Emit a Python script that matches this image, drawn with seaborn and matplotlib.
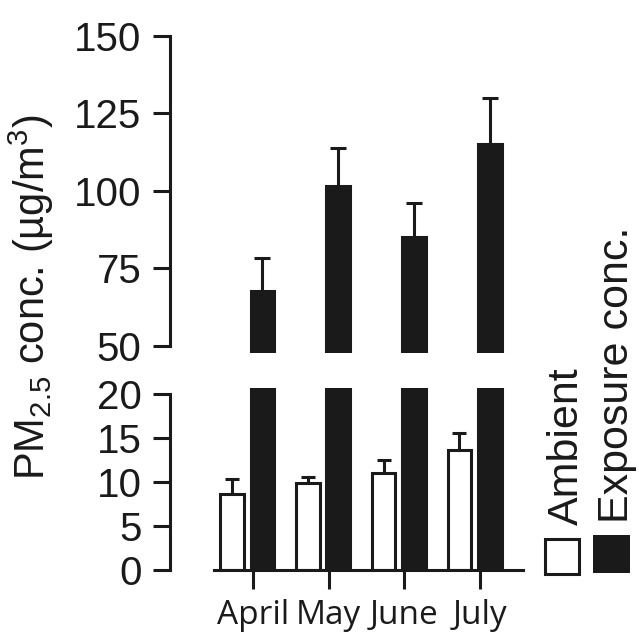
import numpy as np
import pandas as pd
import seaborn as sns
import matplotlib.pyplot as plt
from matplotlib.patches import Rectangle

# values
months = ["April", "May", "June", "July"]
ambient = [8.6, 9.9, 11.0, 13.7]
ambient_err = [1.7, 0.7, 1.5, 1.9]
exposure = [67.7, 101.7, 85.2, 115.3]
exposure_err = [10.5, 12.3, 11.0, 14.6]
series = ["Ambient", "Exposure conc."]

top_ticks = [50, 75, 100, 125, 150]
bottom_ticks = [0, 5, 10, 15, 20]

sns.set_style("ticks")
plt.rcParams["font.family"] = ["Liberation Sans", "DejaVu Sans"]
plt.rcParams["mathtext.fontset"] = "custom"
plt.rcParams["mathtext.rm"] = "Liberation Sans"
plt.rcParams["mathtext.it"] = "Liberation Sans:italic"

ink = "#1a1a1a"
lw = 2.2

df = pd.DataFrame({
    "month": months * 2,
    "series": [series[0]] * 4 + [series[1]] * 4,
    "value": ambient + exposure,
})
errs = {series[0]: ambient_err, series[1]: exposure_err}
vals = {series[0]: ambient, series[1]: exposure}

fig = plt.figure(figsize=(6.39, 6.44), dpi=100)
ax_top = fig.add_axes([0.3349, 0.4519, 0.4836, 0.4922])
ax_bot = fig.add_axes([0.3349, 0.1149, 0.4836, 0.2826])

for ax in (ax_top, ax_bot):
    sns.barplot(data=df, x="month", y="value", hue="series", order=months,
                hue_order=series, palette={series[0]: "white", series[1]: ink},
                edgecolor=ink, linewidth=lw, width=0.8, gap=0.22,
                errorbar=None, legend=False, ax=ax)
    for cont, name in zip(ax.containers, series):
        xs = [b.get_x() + b.get_width() / 2 for b in cont]
        cap = 6 if name == series[1] else 5
        eb = ax.errorbar(xs, vals[name], yerr=[np.zeros(4), errs[name]], fmt="none",
                         ecolor=ink, elinewidth=lw, capsize=cap, capthick=lw, zorder=0.5)
        eb[1][0].set_visible(False)
    ax.set_xlim(-0.44, 3.64)
    ax.set_xlabel("")
    ax.set_ylabel("")
    ax.spines["left"].set_position(("outward", 31.7))
    ax.spines["left"].set_linewidth(lw)
    ax.spines["left"].set_color(ink)
    ax.spines["right"].set_visible(False)
    ax.spines["top"].set_visible(False)
    ax.tick_params(axis="y", length=12.5, width=lw, color=ink, labelsize=29,
                   pad=8, labelcolor=ink)

# top panel
ax_top.set_ylim(47.7, 150)
ax_top.set_yticks(top_ticks)
ax_top.spines["left"].set_bounds(50, 150)
ax_top.spines["bottom"].set_visible(False)
ax_top.tick_params(axis="x", bottom=False, labelbottom=False)

# bottom panel
ax_bot.set_ylim(0, 20.7)
ax_bot.set_yticks(bottom_ticks)
ax_bot.spines["left"].set_bounds(0, 20)
ax_bot.spines["bottom"].set_linewidth(lw)
ax_bot.spines["bottom"].set_color(ink)
ax_bot.set_xticks(np.arange(4) + 0.075)
ax_bot.set_xticklabels(months, family=["Open Sans", "DejaVu Sans"], fontsize=24)
ax_bot.tick_params(axis="x", length=13.7, width=lw, color=ink, pad=7,
                   labelcolor=ink)

# y label spanning both panels
fig.text(0.0704, 0.2547, r"PM$_{2.5}$ conc. (µg/m$^3$)", rotation=90,
         rotation_mode="anchor", ha="left", va="baseline", fontsize=30, color=ink)

# rotated legend
fig.add_artist(Rectangle((544.5 / 639, 70.5 / 644), 34 / 639, 35 / 644,
                         transform=fig.transFigure, facecolor="white",
                         edgecolor=ink, linewidth=lw))
fig.add_artist(Rectangle((593 / 639, 71 / 644), 37 / 639, 38 / 644,
                         transform=fig.transFigure, facecolor=ink,
                         edgecolor="none"))
fig.text(578 / 639, 119 / 644, series[0], rotation=90, rotation_mode="anchor",
         ha="left", va="baseline", fontsize=31, color=ink)
fig.text(628 / 639, 121 / 644, series[1], rotation=90, rotation_mode="anchor",
         ha="left", va="baseline", fontsize=31, color=ink)

fig.savefig("out.png", dpi=100)
